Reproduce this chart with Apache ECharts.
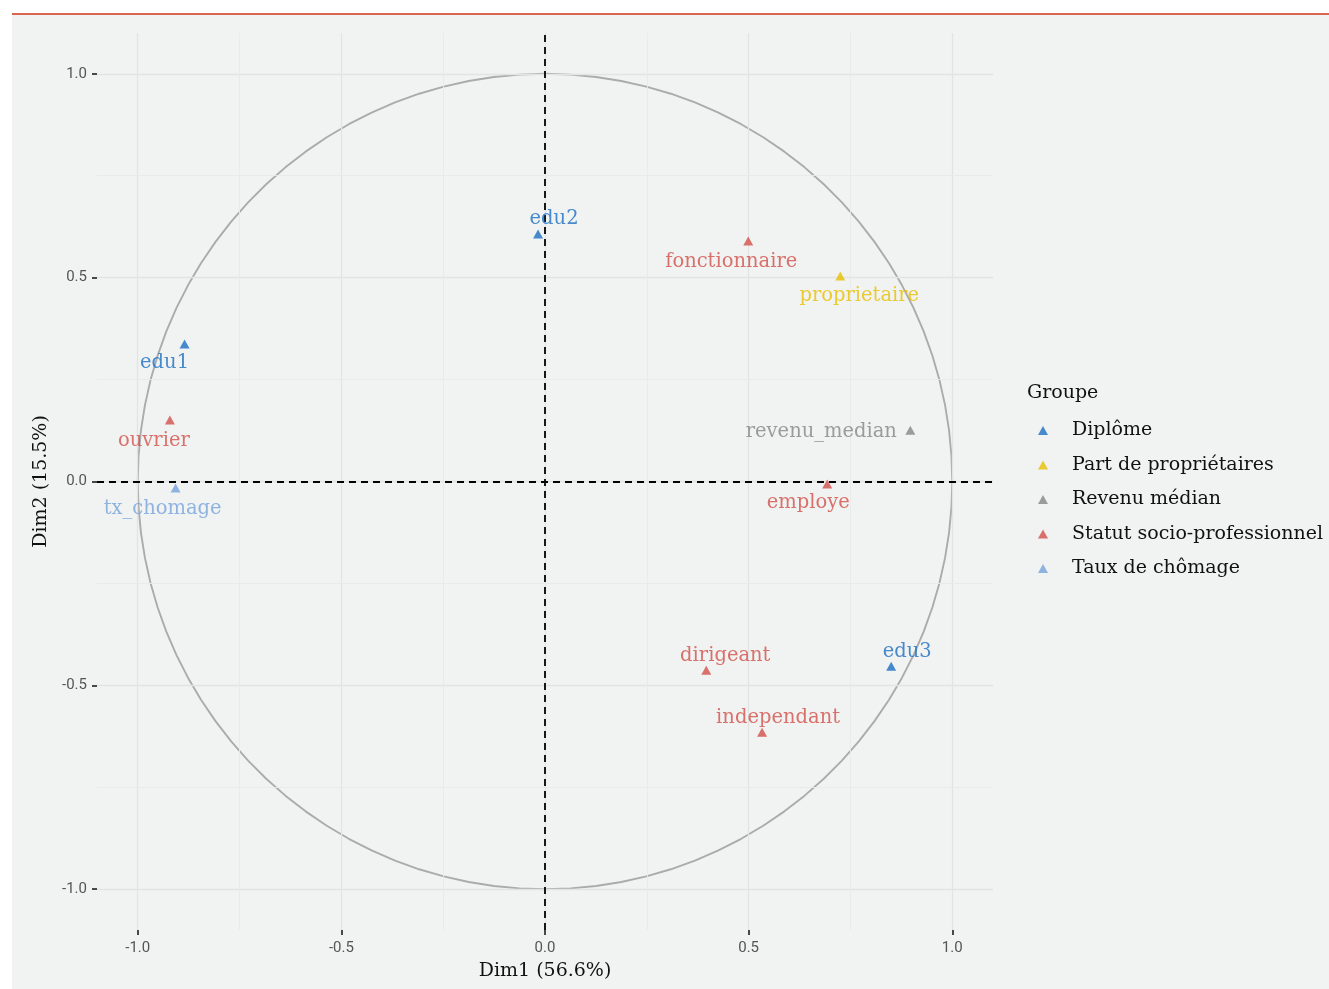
<!DOCTYPE html>
<html>
<head>
<meta charset="utf-8">
<script src="https://cdn.jsdelivr.net/npm/echarts@6/dist/echarts.min.js"></script>
<style>
  html, body { margin: 0; padding: 0; background: #fff; }
  #wrap { position: absolute; left: 12px; top: 13px; width: 1317px; height: 976px; background: #f1f3f2; border-top: 2px solid #d9664f; box-sizing: border-box; }
  #chart { position: absolute; left: 0; top: 0; width: 1329px; height: 989px; }
</style>
</head>
<body>
<div id="wrap"></div>
<div id="chart"></div>
<script>
// variables de l'ACP
var names  = ['edu2', 'fonctionnaire', 'proprietaire', 'edu1', 'ouvrier', 'tx_chomage', 'revenu_median', 'employe', 'dirigeant', 'edu3', 'independant'];
var dim1   = [-0.017, 0.499, 0.725, -0.885, -0.921, -0.907, 0.897, 0.693, 0.396, 0.850, 0.533];
var dim2   = [0.607, 0.590, 0.504, 0.337, 0.151, -0.016, 0.126, -0.006, -0.463, -0.453, -0.615];
var groupe = ['Diplôme', 'Statut socio-professionnel', 'Part de propriétaires', 'Diplôme', 'Statut socio-professionnel', 'Taux de chômage', 'Revenu médian', 'Statut socio-professionnel', 'Statut socio-professionnel', 'Diplôme', 'Statut socio-professionnel'];
var groupes = ['Diplôme', 'Part de propriétaires', 'Revenu médian', 'Statut socio-professionnel', 'Taux de chômage'];
var ticks  = [-1.0, -0.5, 0.0, 0.5, 1.0];
var minorTicks = [-0.75, -0.25, 0.25, 0.75];

var couleurs = ['#1c6ec2', '#e8bf00', '#858585', '#d24f48', '#75a3dc'];
// decalage des etiquettes (px) facon ggrepel
var decalages = [[16, -15], [-17, 21], [19, 20], [-20, 19], [-16, 21], [-13, 21], [-89, 2], [-19, 19], [19, -14], [16, -14], [16, -14]];

var police = 'DejaVu Serif';

var series = groupes.map(function (g, gi) {
  var pts = [];
  names.forEach(function (n, i) {
    if (groupe[i] !== g) return;
    pts.push({
      name: n,
      value: [dim1[i], dim2[i]],
      label: { offset: decalages[i] }
    });
  });
  return {
    name: g,
    type: 'scatter',
    symbol: 'triangle',
    symbolSize: [10, 9],
    itemStyle: { color: couleurs[gi] },
    label: {
      show: true,
      position: 'inside',
      formatter: '{b}',
      fontFamily: police,
      fontSize: 19.5,
      color: couleurs[gi]
    },
    emphasis: { disabled: true },
    z: 5,
    data: pts
  };
});

// quadrillage (lignes principales et secondaires)
var grille = function (vals, couleur, largeur) {
  var d = [];
  vals.forEach(function (v) { d.push({ xAxis: v }); d.push({ yAxis: v }); });
  return {
    type: 'scatter', silent: true, data: [], z: 1,
    markLine: {
      silent: true, symbol: 'none', label: { show: false }, animation: false,
      lineStyle: { color: couleur, type: 'solid', width: largeur },
      data: d
    }
  };
};
series.unshift(grille(minorTicks, '#e8eaea', 0.9));
series.unshift(grille(ticks, '#e2e4e4', 1.3));

// cercle des correlations
var cercle = [];
for (var k = 0; k <= 100; k++) {
  var a = 2 * Math.PI * k / 100;
  cercle.push([Math.cos(a), Math.sin(a)]);
}
series.push({
  type: 'line',
  silent: true,
  symbol: 'none',
  lineStyle: { color: '#ababab', width: 1.9 },
  data: cercle,
  z: 2,
  markLine: {
    silent: true,
    symbol: 'none',
    label: { show: false },
    lineStyle: { color: '#000', type: [7, 5], width: 1.8 },
    data: [{ xAxis: 0 }, { yAxis: 0 }]
  }
});

var axe = function (nom, gap, rot, marge) {
  return {
    type: 'value',
    min: -1.1, max: 1.1,
    name: nom,
    nameLocation: 'middle',
    nameGap: gap,
    nameRotate: rot,
    nameTextStyle: { fontFamily: police, fontSize: 19, color: '#111' },
    axisLine: { show: false, onZero: false },
    axisTick: { show: true, length: 5, lineStyle: { color: '#111', width: 1.5 }, customValues: ticks },
    axisLabel: { fontFamily: 'Roboto', fontSize: 15, color: '#555', margin: marge, customValues: ticks, formatter: function (v) { return v.toFixed(1); } },
    splitLine: { show: false },
    minorSplitLine: { show: false }
  };
};

var chart = echarts.init(document.getElementById('chart'), null, { renderer: 'canvas' });
chart.setOption({
  backgroundColor: 'transparent',
  animation: false,
  grid: { left: 97, right: 336, top: 33, bottom: 59 },
  xAxis: axe('Dim1 (56.6%)', 32, 0, 11),
  yAxis: axe('Dim2 (15.5%)', 46, 90, 10),
  title: {
    text: 'Groupe',
    left: 1022, top: 379,
    textStyle: { fontFamily: police, fontSize: 19, fontWeight: 'normal', color: '#111' }
  },
  legend: {
    orient: 'vertical',
    left: 1033, top: 414,
    icon: 'triangle',
    itemWidth: 10, itemHeight: 9,
    itemGap: 11.5,
    textStyle: { fontFamily: police, fontSize: 19, color: '#111', padding: [0, 0, 0, 19], lineHeight: 23 },
    data: groupes
  },
  series: series
});
</script>
</body>
</html>
